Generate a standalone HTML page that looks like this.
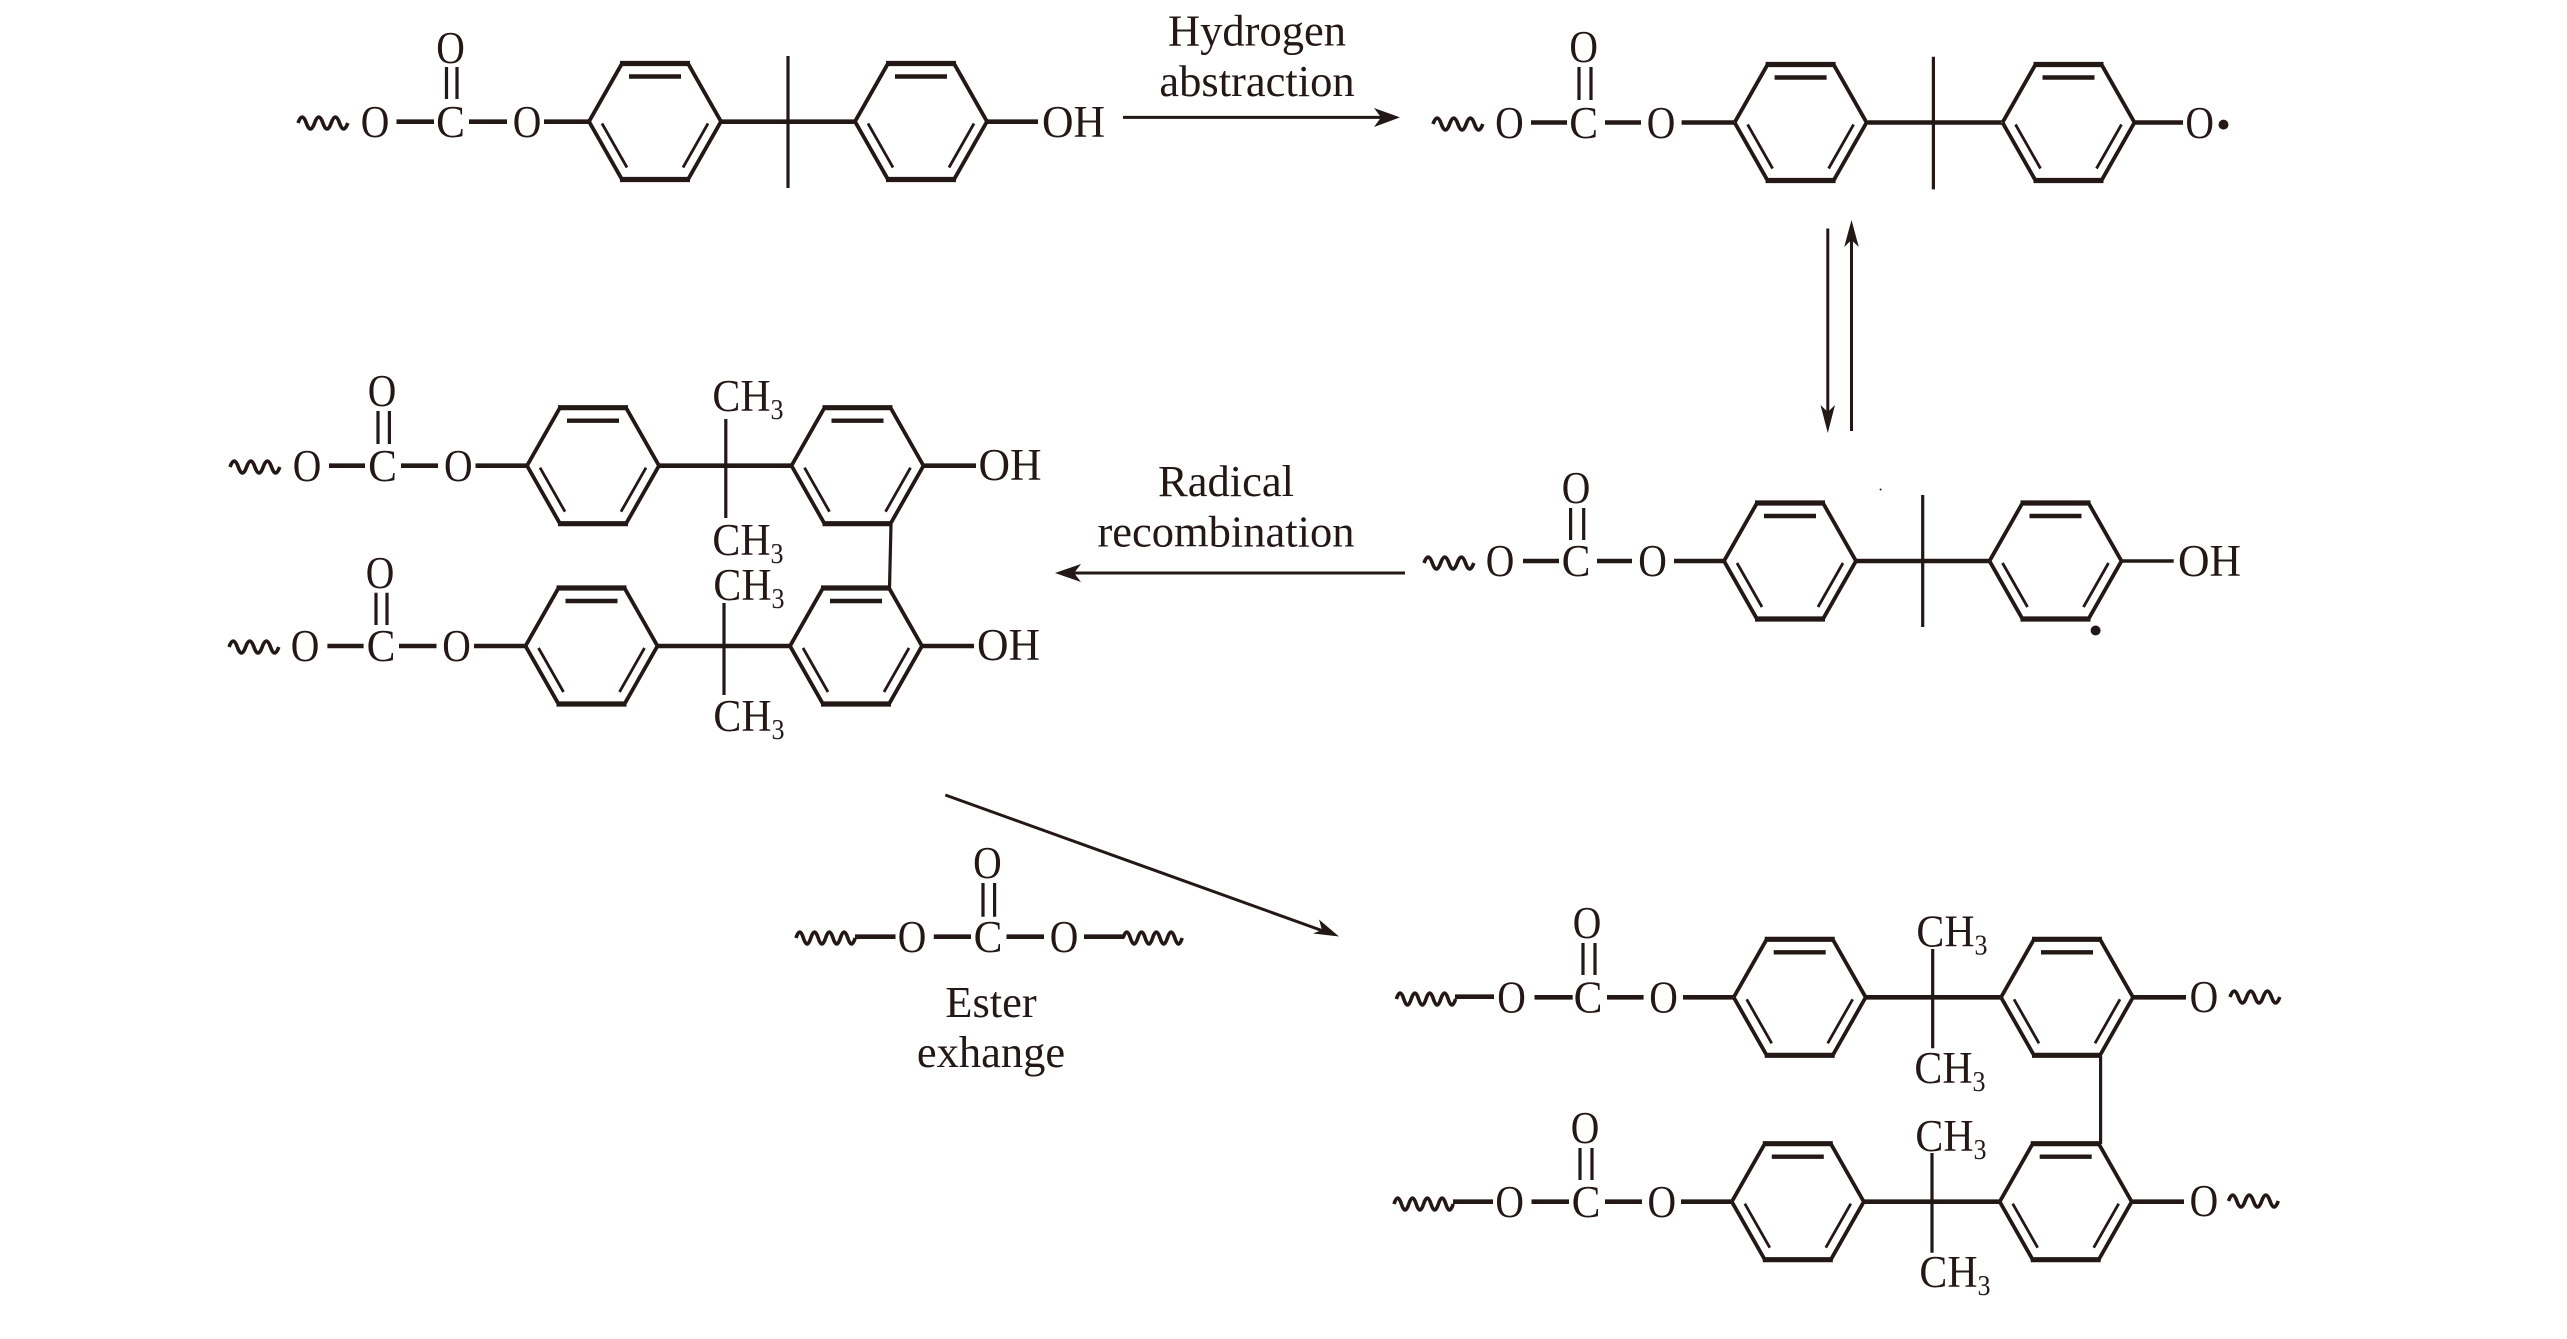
<!DOCTYPE html>
<html><head><meta charset="utf-8">
<style>
html,body{margin:0;padding:0;background:#fff;width:2567px;height:1339px;overflow:hidden}
svg{display:block}
text{font-family:"Liberation Serif",serif;font-size:45px;fill:#231815;text-anchor:middle;transform-box:fill-box;transform-origin:center}
.o{transform:scaleX(.88)}
.c{transform:scaleX(.96)}
.h{transform:scaleX(.97)}
.m{transform:scaleX(.93)}
.l{font-size:44.5px}
.b{stroke:#231815;stroke-width:4.6;fill:none}
.t{stroke:#231815;stroke-width:3.2;fill:none}
.w{stroke:#231815;stroke-width:3.6;fill:none}
.a{stroke:#231815;stroke-width:3;fill:none}
.f{fill:#231815}
</style></head><body>
<svg width="2567" height="1339" viewBox="0 0 2567 1339" xmlns="http://www.w3.org/2000/svg">
<defs>
<g id="r">
<path d="M-66,0L-33,-58M33,-58L66,0L33,58M-33,58L-66,0" stroke="#231815" stroke-width="3.8" fill="none"/>
<path d="M-35,-58H35M-35,58H35" stroke="#231815" stroke-width="5.2" fill="none"/>
<path d="M-26,-45H26" stroke="#231815" stroke-width="4.4" fill="none"/>
<path d="M-53,2L-28,46M53,2L28,46" stroke="#231815" stroke-width="2.8" fill="none"/>
</g>
<path id="w3" d="M0,3q4.2,-12 8.3,0t8.3,0t8.3,0t8.3,0t8.3,0t8.3,0"/>
<path id="w4" d="M0,3q3.7,-12 7.4,0t7.4,0t7.4,0t7.4,0t7.4,0t7.4,0t7.4,0t7.4,0"/>
</defs>

<!-- Molecule 1 -->
<use href="#w3" x="298" y="120" class="w"/>
<path class="b" d="M396.5,121.7H434M469,121.7H507M544,121.7H589M721,121.7H855M987,121.7H1038"/>
<path class="t" d="M788,56V188M446.5,67V99M457,67V99"/>
<use href="#r" x="655" y="121.5"/><use href="#r" x="921" y="121.5"/>
<text x="375" y="137" class="o">O</text><text x="450.5" y="137" class="c">C</text><text x="527" y="137" class="o">O</text><text x="450.5" y="63" class="o">O</text><text x="1073.5" y="137" class="h">OH</text>

<!-- Arrow 1 -->
<path class="a" d="M1123,117.4H1385"/><path class="f" d="M1400,117.4L1374,108L1381,117.4L1374,127Z"/>
<text x="1257" y="45.5" class="l">Hydrogen</text><text x="1257" y="96" class="l">abstraction</text>

<!-- Molecule 2 -->
<use href="#w3" x="1433" y="121" class="w"/>
<path class="b" d="M1531,122.5H1567M1605,122.5H1641M1681.6,122.5H1734M1868,122.5H2001.5M2135.4,122.5H2183"/>
<path class="t" d="M1933.4,56.8V189.4M1579,67V100M1591,67V100"/>
<use href="#r" x="1800.6" y="122.5"/><use href="#r" x="2068.5" y="122.5"/>
<text x="1509.4" y="138" class="o">O</text><text x="1583.7" y="138" class="c">C</text><text x="1661" y="138" class="o">O</text><text x="1583.7" y="62" class="o">O</text><text x="2199.7" y="138" class="o">O</text>
<circle cx="2223.5" cy="124.6" r="5" class="f"/>

<!-- Equilibrium arrows -->
<path class="a" d="M1827.8,228.5V420"/><path class="f" d="M1827.8,433L1820.5,405L1827.8,412L1835,405Z"/>
<path class="a" d="M1851.5,232V431"/><path class="f" d="M1851.5,220L1844.2,247L1851.5,240L1858.8,247Z"/>

<!-- Molecule 3 -->
<use href="#w3" x="1424" y="560" class="w"/>
<path class="b" d="M1523,561H1559M1597,561H1632M1674,561H1724M1856,561H1989"/>
<path class="a" d="M2121.7,561H2173.7" style="stroke-width:3.4"/>
<path class="t" d="M1922.7,495V627M1570.6,508V540M1583.7,508V540"/>
<use href="#r" x="1790" y="561"/><use href="#r" x="2055.5" y="561"/>
<text x="1500" y="576" class="o">O</text><text x="1576" y="576" class="c">C</text><text x="1652.5" y="576" class="o">O</text><text x="1576" y="503" class="o">O</text><text x="2209.5" y="576" class="h">OH</text>
<circle cx="2095.6" cy="630.5" r="5" class="f"/><circle cx="1880.6" cy="489.5" r="1" class="f"/>

<!-- Radical recombination arrow -->
<text x="1226" y="496" class="l">Radical</text><text x="1226" y="546.5" class="l">recombination</text>
<path class="a" d="M1405,573H1068"/><path class="f" d="M1055,573L1081,564L1074,573L1081,582Z"/>

<!-- Molecule 4 -->
<use href="#w3" x="230" y="464" class="w"/>
<path class="b" d="M329,465.7H365M401,465.7H438M475.5,465.7H527M659,465.7H792M923,465.7H976"/>
<path class="t" d="M725.8,419V518M378,411V444M389.4,411V444M891,524L889.5,588.3"/>
<use href="#r" x="593" y="465.7"/><use href="#r" x="857.5" y="465.7"/>
<text x="307" y="481" class="o">O</text><text x="382.5" y="481" class="c">C</text><text x="458.3" y="481" class="o">O</text><text x="382" y="406" class="o">O</text><text x="1010" y="480" class="h">OH</text>
<text x="748" y="411" class="m">CH<tspan dy="8" font-size="28">3</tspan></text>
<text x="748" y="555" class="m">CH<tspan dy="8" font-size="28">3</tspan></text>

<!-- Molecule 5 -->
<use href="#w3" x="229" y="644" class="w"/>
<path class="b" d="M327.4,646H363.6M399,646H436.5M474,646H525.5M657.5,646H790M921.6,646H974"/>
<path class="t" d="M724,603V695M376,592.7V625M387,592.7V625"/>
<use href="#r" x="591.5" y="646"/><use href="#r" x="856" y="646"/>
<text x="305" y="661" class="o">O</text><text x="381" y="661" class="c">C</text><text x="456.6" y="661" class="o">O</text><text x="380" y="588" class="o">O</text><text x="1008.5" y="660" class="h">OH</text>
<text x="749" y="600" class="m">CH<tspan dy="8" font-size="28">3</tspan></text>
<text x="749" y="731" class="m">CH<tspan dy="8" font-size="28">3</tspan></text>

<!-- Diagonal arrow -->
<path class="a" d="M945.3,795L1326,932"/><path class="f" d="M1339,936.5L1313,933.5L1322,930L1319,919.5Z"/>

<!-- Ester reagent -->
<use href="#w4" x="796" y="935" class="w"/><use href="#w4" x="1123" y="935" class="w"/>
<path class="b" d="M855,936.7H895.5M933.8,936.7H971M1006.5,936.7H1044M1084,936.7H1124"/>
<path class="t" d="M983,883V916.7M994.6,883V916.7"/>
<text x="912" y="952" class="o">O</text><text x="988" y="952" class="c">C</text><text x="1064" y="952" class="o">O</text><text x="987.4" y="878" class="o">O</text>
<text x="991" y="1017" class="l">Ester</text><text x="991" y="1067" class="l">exhange</text>

<!-- Molecule 6 -->
<use href="#w4" x="1396.4" y="996" class="w"/><use href="#w3" x="2230" y="994" class="w"/>
<path class="b" d="M1455,996.7H1494M1534.5,997.3H1572.7M1607,997.3H1643.6M1683,997.3H1733.3M1866,997.3H2000.6M2133.3,997.3H2186"/>
<path class="t" d="M1932.7,949V1048.3M1583,943V975M1595,943V975M2100.6,1056V1144"/>
<use href="#r" x="1799.7" y="997.3"/><use href="#r" x="2067" y="997.3"/>
<text x="1511.5" y="1012.5" class="o">O</text><text x="1588" y="1012.5" class="c">C</text><text x="1663.6" y="1012.5" class="o">O</text><text x="1587" y="938" class="o">O</text><text x="2204" y="1012" class="o">O</text>
<text x="1952" y="946.5" class="m">CH<tspan dy="8" font-size="28">3</tspan></text>
<text x="1950" y="1083" class="m">CH<tspan dy="8" font-size="28">3</tspan></text>

<!-- Molecule 7 -->
<use href="#w4" x="1394" y="1201" class="w"/><use href="#w3" x="2228.5" y="1198" class="w"/>
<path class="b" d="M1453,1201.7H1493M1531.5,1201.7H1569M1605,1201.7H1642M1681,1201.7H1731.5M1864,1201.7H1999.4M2132,1201.7H2184"/>
<path class="t" d="M1932,1153V1252.7M1580,1148V1180M1592,1148V1180"/>
<use href="#r" x="1797.8" y="1201.7"/><use href="#r" x="2065.7" y="1201.7"/>
<text x="1509.7" y="1217" class="o">O</text><text x="1586" y="1217" class="c">C</text><text x="1661.8" y="1217" class="o">O</text><text x="1585" y="1143" class="o">O</text><text x="2204" y="1216" class="o">O</text>
<text x="1951" y="1151" class="m">CH<tspan dy="8" font-size="28">3</tspan></text>
<text x="1955" y="1287" class="m">CH<tspan dy="8" font-size="28">3</tspan></text>
</svg>
</body></html>
